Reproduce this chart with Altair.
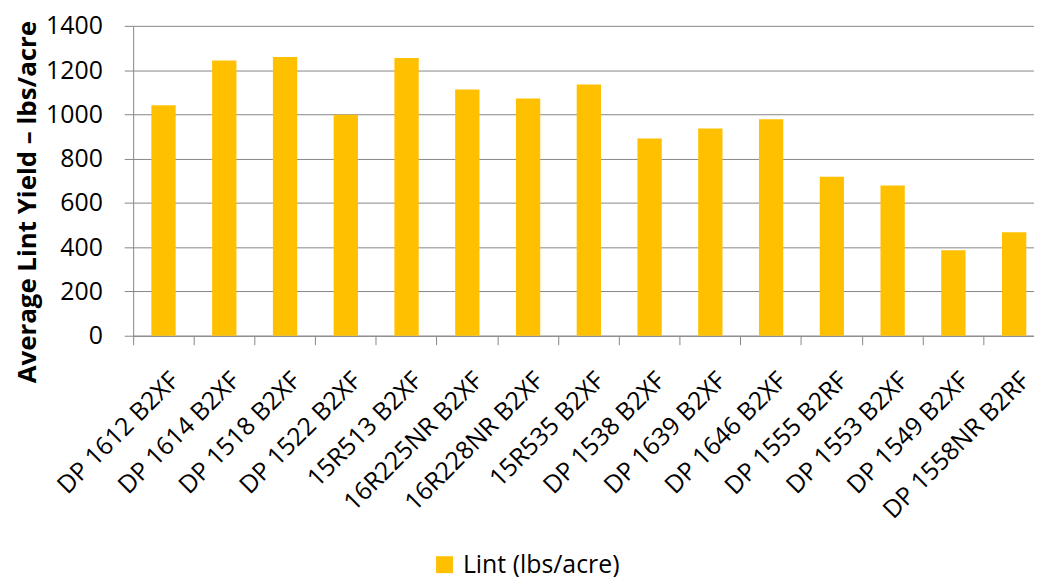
import altair as alt
import pandas as pd

varieties = ["DP 1612 B2XF", "DP 1614 B2XF", "DP 1518 B2XF", "DP 1522 B2XF",
             "15R513 B2XF", "16R225NR B2XF", "16R228NR B2XF", "15R535 B2XF",
             "DP 1538 B2XF", "DP 1639 B2XF", "DP 1646 B2XF", "DP 1555 B2RF",
             "DP 1553 B2XF", "DP 1549 B2XF", "DP 1558NR B2RF"]
lint = [1041, 1244, 1259, 998, 1255, 1113, 1072, 1135, 891, 936, 978, 718, 679, 386, 467]
series = ["Lint (lbs/acre)"] * len(varieties)
y_ticks = [0, 200, 400, 600, 800, 1000, 1200, 1400]

df = pd.DataFrame({"variety": varieties, "lint": lint, "series": series})

FONT = "Open Sans"
GRAY = "#868686"

chart = alt.Chart(df).mark_bar().encode(
    x=alt.X("variety:N", sort=varieties,
            scale=alt.Scale(paddingInner=0.6, paddingOuter=0.3, range=[0, 917.6]),
            axis=alt.Axis(title=None, labelAngle=-45, labelAlign="right",
                          labelBaseline="top", labelFontSize=25,
                          labelPadding=23, tickSize=9, bandPosition=-0.75,
                          labelOffset=3, labelLimit=400,
                          ticks=True, domainColor=GRAY, tickColor=GRAY,
                          labelColor="black", labelFont=FONT, grid=False,
                          labelOverlap=False)),
    y=alt.Y("lint:Q",
            scale=alt.Scale(domain=[0, 1400]),
            axis=alt.Axis(title="Average Lint Yield – lbs/acre", values=y_ticks, format="d",
                          titleFont=FONT, titleFontSize=26, titleFontWeight="bold",
                          titleColor="black", titleX=-106, titleY=177,
                          titleAngle=-90, titleAlign="center", titleBaseline="middle",
                          labelFont=FONT, labelFontSize=25, labelColor="black",
                          labelPadding=22, tickSize=9, tickColor=GRAY,
                          domainColor=GRAY, gridColor=GRAY, grid=True)),
    fill=alt.Fill("series:N", scale=alt.Scale(range=["#FFC000"]),
                  legend=alt.Legend(title=None, orient="none", legendX=301, legendY=530,
                                    symbolType="square", symbolSize=289,
                                    labelFont=FONT, labelFontSize=25, labelColor="black",
                                    labelOffset=6, padding=0, symbolStrokeWidth=0)),
).properties(
    width=907, height=312,
    autosize=alt.AutoSizeParams(type="none"),
    padding={"left": 126, "top": 16, "right": 0, "bottom": 250},
).configure_view(stroke=None)

chart.save("out.html", embed_options={"renderer": "svg", "actions": False})
